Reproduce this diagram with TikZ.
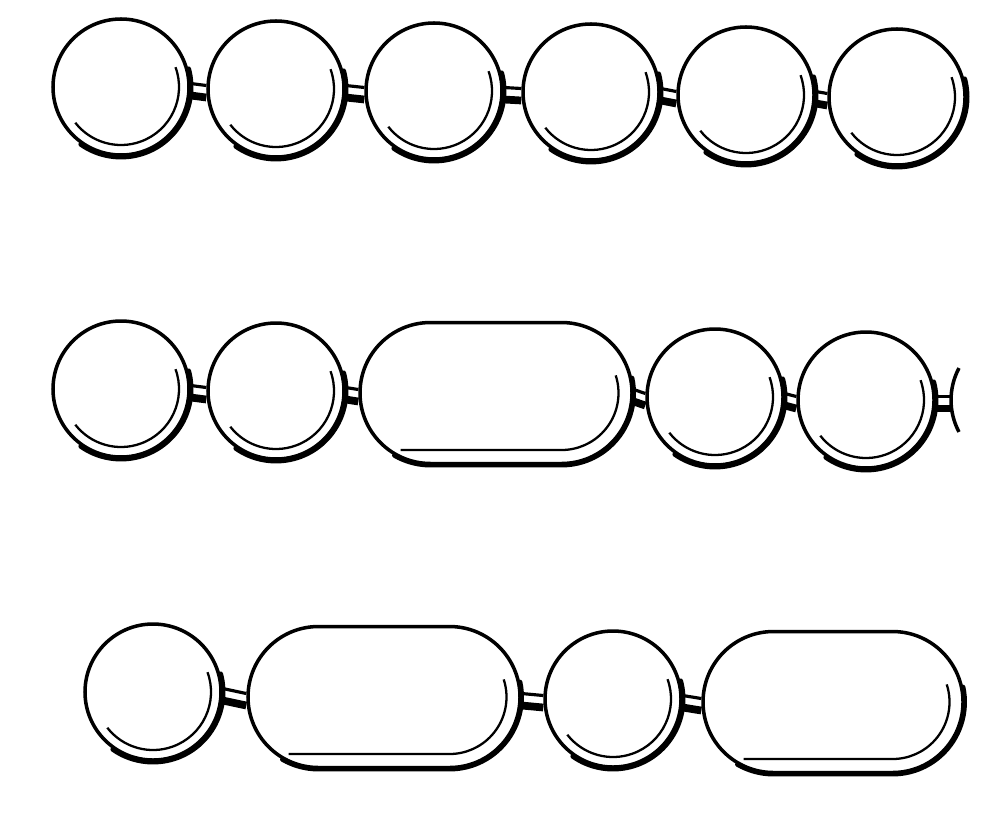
\documentclass[tikz,border=0pt]{standalone}
\usetikzlibrary{shapes.misc}
\tikzset{
  bead/.style={circle, draw, fill=white, line width=1pt, minimum size=1.36cm, inner sep=0pt},
  pill/.style={rounded rectangle, draw, fill=white, line width=1pt, minimum height=1.41cm, minimum width=#1, inner sep=0pt},
  shine/.style={line width=0.65pt},
  shadow line/.style={line width=1.4pt, line cap=round},
  link top/.style={line width=0.9pt},
  link bottom/.style={line width=2.2pt}
}
\begin{document}
\begin{tikzpicture}
    \useasboundingbox (0,0) rectangle (10,8.16);

    % 1段目の玉
    \node[bead] (a1) at (1.21,7.29) {};
    \node[bead] (a2) at (2.76,7.27) {};
    \node[bead] (a3) at (4.34,7.25) {};
    \node[bead] (a4) at (5.91,7.24) {};
    \node[bead] (a5) at (7.46,7.21) {};
    \node[bead] (a6) at (8.97,7.19) {};

    % 2段目の玉
    \node[bead] (b1) at (1.21,4.27) {};
    \node[bead] (b2) at (2.76,4.25) {};
    \node[pill=2.72cm] (b3) at (4.96,4.23) {};
    \node[bead] (b4) at (7.15,4.19) {};
    \node[bead] (b5) at (8.66,4.16) {};
    \coordinate (b6) at (9.51,4.16);

    % 3段目の玉
    \node[bead] (c1) at (1.53,1.24) {};
    \node[pill=2.72cm] (c2) at (3.84,1.19) {};
    \node[bead] (c3) at (6.13,1.17) {};
    \node[pill=2.60cm] (c4) at (8.33,1.14) {};

    % 丸い玉の光と影
    \foreach \n in {a1,a2,a3,a4,a5,a6,b1,b2,b4,b5,c1,c3} {
      \draw[shine] ([shift={(20:0.58)}]\n.center) arc[start angle=20, end angle=-142, radius=0.58];
      \draw[shadow line] ([shift={(15:0.70)}]\n.center) arc[start angle=15, end angle=-125, radius=0.70];
    }

    % 長い玉の光と影
    \foreach \n/\d in {b3/0.655, c2/0.655, c4/0.595} {
      \draw[shine] ([xshift=\d cm]\n.center) ++(18:0.57) arc[start angle=18, end angle=-90, radius=0.57]
        -- ([xshift=-\d cm-0.3cm, yshift=-0.57cm]\n.center);
      \draw[shadow line] ([xshift=\d cm]\n.center) ++(12:0.72) arc[start angle=12, end angle=-90, radius=0.72]
        -- ([xshift=-\d cm, yshift=-0.72cm]\n.center) arc[start angle=-90, end angle=-120, radius=0.72];
    }

    % つなぎ
    \foreach \p/\q in {a1/a2, a2/a3, a3/a4, a4/a5, a5/a6, b1/b2, b2/b3, b3/b4, b4/b5, c1/c2, c2/c3, c3/c4} {
      \draw[link top] ([yshift=0.035cm]\p.east) -- ([yshift=0.035cm]\q.west);
      \draw[link bottom] ([yshift=-0.085cm]\p.east) -- ([yshift=-0.085cm]\q.west);
    }
    \draw[link top] ([yshift=0.035cm]b5.east) -- ([yshift=0.035cm]b6);
    \draw[link bottom] ([yshift=-0.085cm]b5.east) -- ([yshift=-0.085cm]b6);

    % 右端の切れた玉
    \draw[line width=1pt] (b6) arc[start angle=180, end angle=152, radius=0.68];
    \draw[line width=1pt] (b6) arc[start angle=180, end angle=208, radius=0.68];
\end{tikzpicture}
\end{document}
